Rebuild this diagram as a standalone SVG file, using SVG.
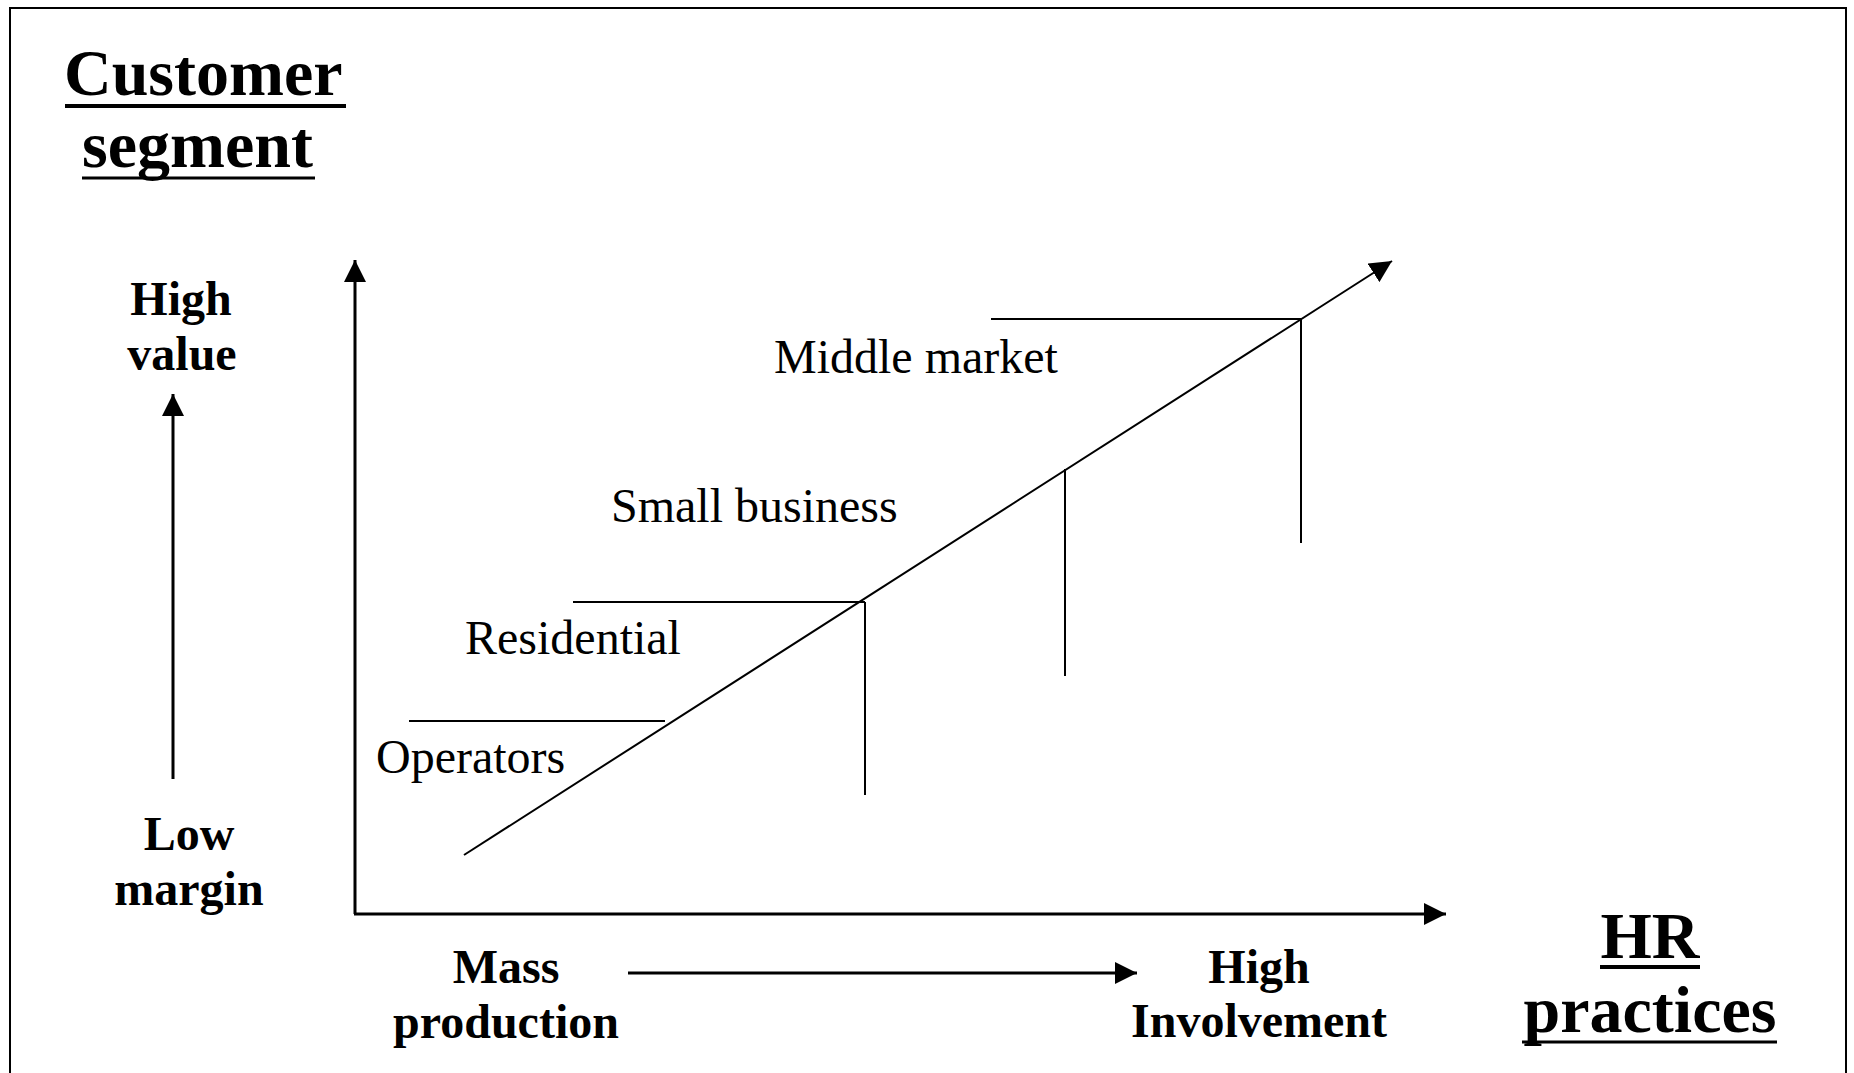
<svg xmlns="http://www.w3.org/2000/svg" width="1854" height="1073" viewBox="0 0 1854 1073">
<defs>
<style>
.bold{font-family:"Liberation Serif","Times New Roman",serif;font-weight:bold;fill:#000}
.reg{font-family:"Liberation Serif","Times New Roman",serif;font-size:48px;fill:#000}
.b48{font-size:48px}
.b66{font-size:66px}
.ln{stroke:#000;stroke-width:2;fill:none}
.ax{stroke:#000;stroke-width:3;fill:none}
</style>
<marker id="ah" markerUnits="userSpaceOnUse" viewBox="0 0 22 22" refX="22" refY="11" markerWidth="22" markerHeight="22" orient="auto">
<path d="M0,0 L22,11 L0,22 Z" fill="#000"/>
</marker>
</defs>
<rect x="0" y="0" width="1854" height="1073" fill="#fff"/>
<rect id="frame" x="10" y="8" width="1836" height="1080" fill="none" stroke="#000" stroke-width="2"/>

<g id="title-customer">
<text class="bold b66" x="64" y="95">Customer</text>
<line x1="65" y1="106" x2="346" y2="106" stroke="#000" stroke-width="4"/>
<text class="bold b66" x="82" y="167">segment</text>
<line x1="82" y1="178" x2="315" y2="178" stroke="#000" stroke-width="3"/>
</g>

<g id="title-hr">
<text class="bold b66" x="1650" y="958" text-anchor="middle">HR</text>
<line x1="1600" y1="967" x2="1700" y2="967" stroke="#000" stroke-width="4"/>
<text class="bold b66" x="1650" y="1032" text-anchor="middle">practices</text>
<line x1="1522" y1="1042" x2="1777" y2="1042" stroke="#000" stroke-width="3"/>
</g>

<g id="label-high-value">
<text class="bold b48" x="181" y="315" text-anchor="middle">High</text>
<text class="bold b48" x="182" y="370" text-anchor="middle">value</text>
</g>
<g id="label-low-margin">
<text class="bold b48" x="189" y="850" text-anchor="middle">Low</text>
<text class="bold b48" x="189" y="905" text-anchor="middle">margin</text>
</g>
<g id="label-mass-production">
<text class="bold b48" x="506" y="983" text-anchor="middle">Mass</text>
<text class="bold b48" x="506" y="1038" text-anchor="middle">production</text>
</g>
<g id="label-high-involvement">
<text class="bold b48" x="1259" y="983" text-anchor="middle">High</text>
<text class="bold b48" x="1259" y="1037" text-anchor="middle">Involvement</text>
</g>

<g id="seg-middle-market">
<text class="reg" x="774" y="373">Middle market</text>
</g>
<g id="seg-small-business">
<text class="reg" x="611" y="522">Small business</text>
</g>
<g id="seg-residential">
<text class="reg" x="465" y="654">Residential</text>
</g>
<g id="seg-operators">
<text class="reg" x="376" y="773">Operators</text>
</g>

<g id="connectors">
<line class="ax" x1="355" y1="914" x2="355" y2="260" marker-end="url(#ah)"/>
<line class="ax" x1="354" y1="914" x2="1446" y2="914" marker-end="url(#ah)"/>
<line class="ax" x1="173" y1="779" x2="173" y2="394" marker-end="url(#ah)"/>
<line class="ax" x1="628" y1="973" x2="1137" y2="973" marker-end="url(#ah)"/>
<line class="ln" x1="464" y1="855" x2="1392" y2="261" marker-end="url(#ah)"/>
<line class="ln" x1="409" y1="721" x2="665" y2="721"/>
<line class="ln" x1="573" y1="602" x2="865" y2="602"/>
<line class="ln" x1="865" y1="602" x2="865" y2="795"/>
<line class="ln" x1="1065" y1="469" x2="1065" y2="676"/>
<line class="ln" x1="991" y1="319" x2="1301" y2="319"/>
<line class="ln" x1="1301" y1="319" x2="1301" y2="543"/>
</g>
</svg>
